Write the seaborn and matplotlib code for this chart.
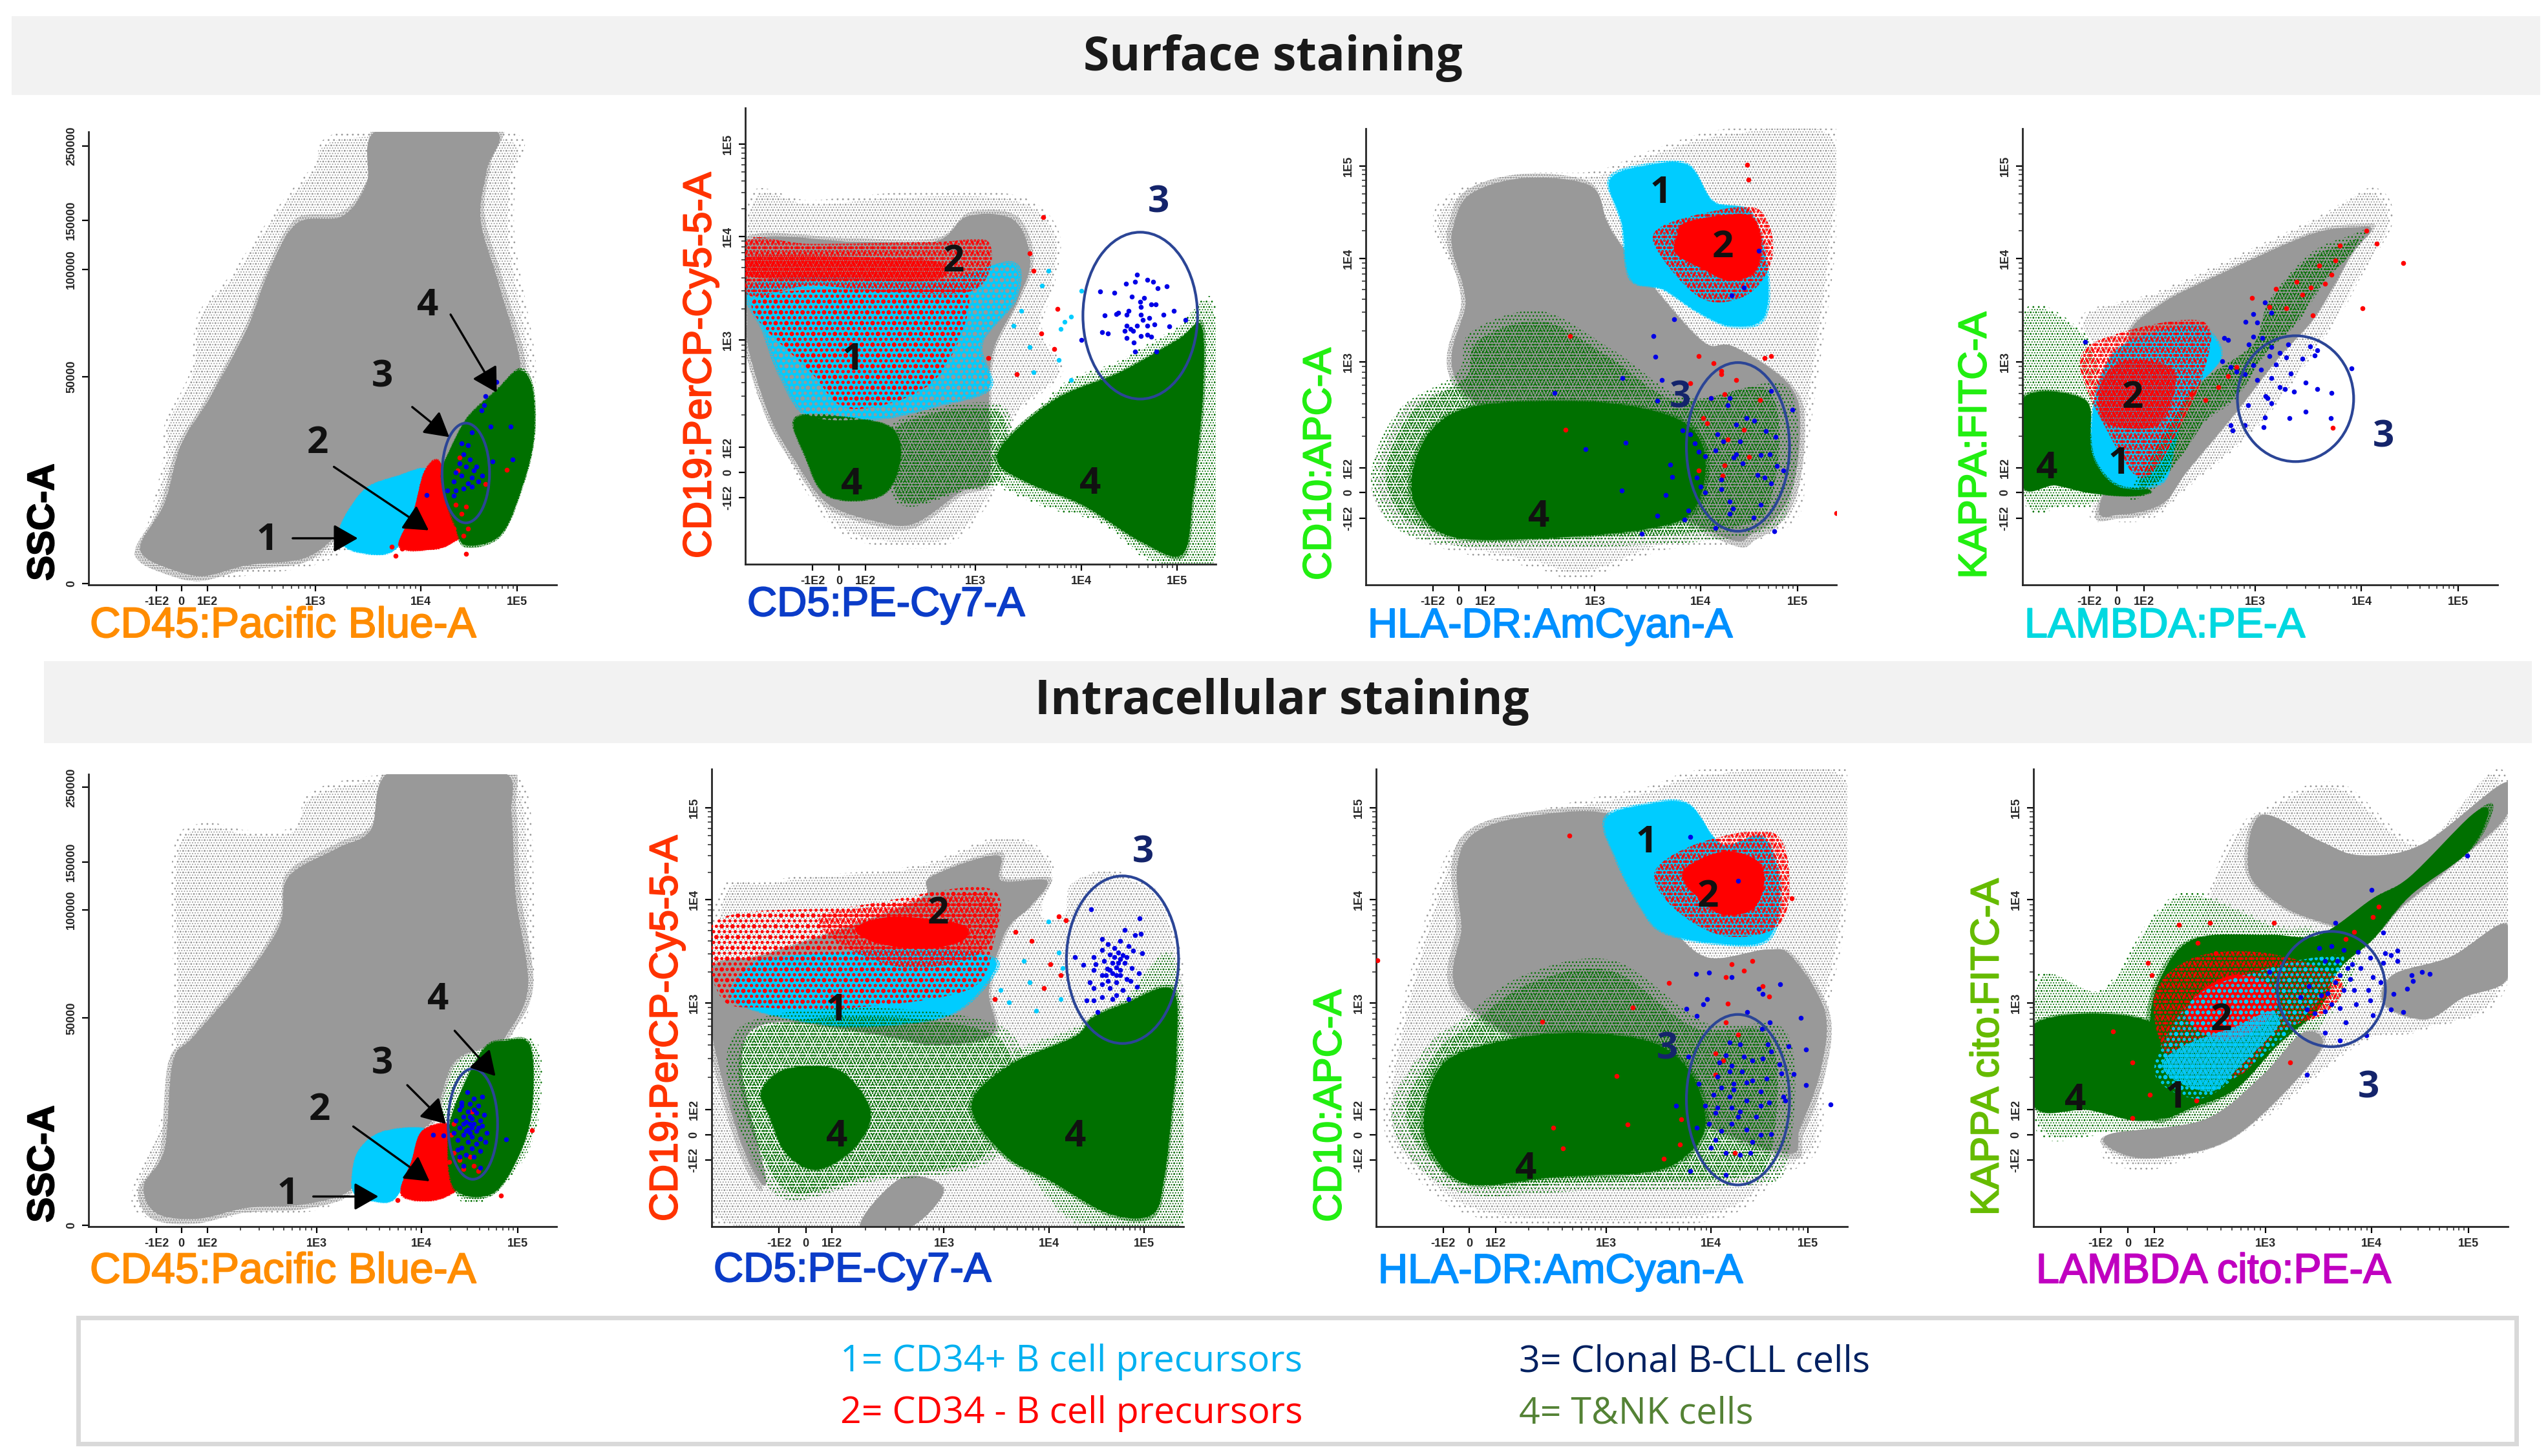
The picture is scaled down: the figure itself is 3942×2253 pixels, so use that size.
import matplotlib
matplotlib.use("Agg")
import matplotlib.patheffects as pe
import matplotlib.pyplot as plt
import numpy as np
import seaborn as sns
from matplotlib.patches import Ellipse, PathPatch, Rectangle
from matplotlib.path import Path
from matplotlib.ticker import FixedLocator

# Everything below is in channel units (the flow software
# gives no linear scale), y channels run downwards like the plots were read.

X_LABELS = ["-1E2", "0", "1E2", "1E3", "1E4", "1E5"]
Y_LABELS = ["1E5", "1E4", "1E3", "1E2", "0", "-1E2"]
SSC_LABELS = ["250000", "150000", "100000", "50000", "0"]

# ---- panel 1, surface CD45 / SSC
P1_HALO = [(335, 1240), (360, 1170), (395, 1000), (400, 900), (460, 760), (480, 600), (560, 490), (620, 390), (690, 280), (760, 190), (830, 97), (1240, 97), (1250, 220), (1250, 400), (1300, 780), (1200, 830), (1100, 1020), (900, 1200), (780, 1285), (600, 1320), (470, 1330), (370, 1300)]
P1_GRAY = [(345, 1225), (400, 1120), (440, 960), (510, 830), (600, 640), (650, 490), (720, 350), (830, 330), (890, 240), (920, 90), (1195, 90), (1180, 200), (1165, 340), (1210, 520), (1262, 750), (1205, 810), (1140, 880), (1080, 1000), (1020, 1040), (920, 1060), (850, 1130), (820, 1200), (740, 1270), (600, 1290), (490, 1320), (400, 1295), (350, 1265)]
P1_CYAN = [(825, 1195), (855, 1125), (895, 1075), (960, 1048), (1035, 1030), (1005, 1140), (975, 1225), (930, 1260), (845, 1245)]
P1_RED = [(1030, 1035), (1065, 1005), (1090, 1100), (1125, 1170), (1145, 1200), (1110, 1220), (1060, 1245), (970, 1240), (1005, 1140)]
P1_GREEN = [(1135, 885), (1205, 810), (1258, 755), (1290, 800), (1295, 930), (1270, 1060), (1215, 1205), (1130, 1235), (1105, 1180), (1085, 1120), (1072, 1040), (1090, 980)]
P1_ELLIPSE = [1130, 1037, 115, 275]
P1_BLUE = [(1205, 785), (1178, 825), (1175, 850), (1168, 865), (1190, 908), (1238, 908), (1243, 1000), (1145, 925), (1120, 955), (1135, 960), (1125, 985), (1140, 1000), (1115, 1010), (1105, 1035), (1130, 1020), (1150, 1030), (1170, 1045), (1145, 1050), (1120, 1045), (1100, 1060), (1135, 1065), (1160, 1060), (1125, 1080), (1105, 1085), (1085, 1085), (1035, 1098), (1100, 1100), (1195, 1005), (1145, 1075), (1155, 1020)]
P1_SPOTS = [(1115, 995), (1110, 1030), (1230, 1028), (1130, 1130), (1105, 1125), (1120, 1150), (1135, 1190), (950, 1240), (960, 1265), (975, 1245), (1130, 1260), (1178, 1068), (1100, 1190), (1125, 1210)]
P1_NUMS = [("1", 648, 1222), ("2", 770, 955), ("3", 928, 772), ("4", 1038, 575)]
P1_ARROWS = [(710, 1217, 868, 1217), (810, 1020, 1040, 1195), (1000, 855, 1090, 938), (1093, 600, 1205, 815)]

# ---- panel 2, surface CD5 / CD19
P2_HALO = [(245, 280), (400, 285), (640, 262), (900, 272), (1000, 370), (990, 520), (960, 640), (1010, 760), (900, 880), (860, 1060), (760, 1215), (650, 1245), (490, 1215), (400, 1110), (300, 900), (245, 700)]
P2_GRAY = [(245, 600), (250, 700), (300, 880), (360, 1000), (440, 1120), (560, 1170), (650, 1175), (760, 1090), (830, 1050), (830, 850), (840, 700), (900, 560), (930, 450), (890, 340), (780, 330), (700, 400), (500, 400), (245, 400)]
P2_CYAN = [(250, 530), (400, 500), (700, 510), (880, 460), (890, 560), (810, 680), (830, 800), (700, 850), (560, 885), (400, 880), (330, 770), (290, 650)]
P2_RED_BAND = [(245, 395), (400, 405), (700, 400), (830, 400), (800, 530), (600, 540), (400, 520), (245, 545)]
P2_RED_CORE = [(250, 440), (600, 445), (720, 460), (700, 505), (500, 505), (250, 495)]
P2_RED_SPARSE = [(260, 560), (600, 530), (780, 540), (700, 780), (500, 860), (400, 760)]
P2_GREEN_A = [(365, 885), (520, 890), (600, 920), (615, 1000), (580, 1090), (500, 1112), (430, 1090), (390, 1000)]
P2_GREEN_B = [(855, 1010), (880, 940), (1000, 830), (1150, 760), (1290, 670), (1345, 630), (1350, 800), (1335, 1000), (1325, 1100), (1300, 1260), (1200, 1225), (1060, 1125), (930, 1065)]
P2_GREEN_HALO = [(840, 1030), (1000, 800), (1140, 730), (1280, 640), (1385, 590), (1385, 1285), (1230, 1285), (1100, 1175), (950, 1125)]
P2_MOTTLE = [(600, 900), (860, 850), (870, 1050), (760, 1090), (640, 1130), (590, 1080)]
P2_ELLIPSE = [1198, 603, 278, 460]
P2_BLUE = [(1190, 490), (1163, 515), (1185, 510), (1215, 505), (1230, 510), (1240, 528), (1263, 522), (1100, 537), (1135, 540), (1178, 550), (1207, 555), (1198, 565), (1225, 572), (1235, 572), (1200, 580), (1170, 590), (1140, 598), (1112, 603), (1165, 600), (1200, 600), (1220, 610), (1280, 590), (1255, 600), (1308, 615), (1165, 630), (1190, 630), (1215, 630), (1232, 628), (1268, 633), (1160, 645), (1180, 645), (1215, 655), (1120, 652), (1105, 648), (1165, 665), (1200, 660), (1225, 662), (1183, 678), (1185, 702), (1237, 702), (1055, 670), (1145, 595), (1205, 615), (1175, 640)]
P2_SPOTS = [(963, 332), (997, 585), (958, 652), (990, 695), (930, 432), (940, 480), (830, 720), (898, 765)]
P2_CYAN_SPOTS = [(960, 520), (975, 480), (1005, 640), (1030, 605), (1015, 620), (930, 690), (890, 630), (910, 590), (1000, 725), (1030, 780), (940, 760), (1055, 535)]
P2_NUMS = [("1", 500, 725), ("2", 745, 455), ("4", 498, 1070), ("4", 1077, 1068)]
P2_NAVY = [("3", 1243, 292)]

# ---- panel 3, surface HLA-DR / CD10
P3_HALO = [(340, 350), (400, 255), (560, 212), (730, 205), (860, 150), (1050, 88), (1318, 88), (1318, 400), (1270, 800), (1245, 1000), (1225, 1160), (1100, 1230), (900, 1250), (700, 1330), (590, 1300), (300, 1220), (190, 1080), (260, 860), (400, 780), (420, 560)]
P3_GRAY = [(390, 360), (430, 270), (560, 225), (720, 245), (760, 340), (790, 400), (900, 560), (1000, 680), (1070, 690), (1200, 790), (1230, 900), (1205, 1100), (1120, 1200), (1000, 1190), (430, 830), (420, 560), (390, 430)]
P3_GREEN = [(290, 1050), (330, 930), (420, 860), (600, 840), (800, 850), (950, 900), (1000, 1000), (970, 1140), (860, 1190), (620, 1215), (400, 1215), (310, 1150)]
P3_GREEN_HALO = [(190, 1040), (260, 860), (400, 760), (430, 650), (600, 590), (780, 700), (960, 830), (1200, 800), (1210, 1100), (1100, 1210), (620, 1245), (380, 1235), (240, 1180)]
P3_CYAN = [(770, 230), (860, 190), (960, 190), (1020, 290), (1110, 320), (1150, 480), (1140, 610), (1060, 630), (980, 590), (900, 530), (820, 500), (800, 350)]
P3_RED = [(950, 350), (1030, 330), (1110, 330), (1135, 400), (1120, 480), (1060, 505), (990, 470), (930, 430), (935, 380)]
P3_RED_HALO = [(880, 370), (1000, 320), (1130, 310), (1165, 430), (1110, 540), (1000, 560), (900, 450)]
P3_ELLIPSE = [1080, 965, 250, 465]
P3_BLUE = [(875, 660), (880, 716), (800, 775), (895, 780), (885, 838), (635, 817), (710, 972), (807, 953), (798, 1085), (905, 1097), (915, 1014), (920, 1048), (885, 1155), (847, 1205), (925, 613), (945, 920), (965, 930), (975, 955), (1030, 930), (1060, 830), (1015, 830), (1055, 850), (1100, 885), (1120, 892), (1075, 903), (1147, 922), (1172, 938), (1085, 950), (1045, 950), (1025, 975), (985, 978), (1000, 990), (1075, 985), (1070, 995), (1135, 988), (1157, 985), (1092, 1010), (1175, 1018), (1190, 1030), (1127, 1043), (1145, 1050), (1160, 1065), (980, 1050), (1040, 1055), (1040, 1082), (990, 1075), (1000, 1090), (1060, 1115), (1135, 1125), (1068, 1135), (960, 1140), (1060, 1150), (1118, 1160), (950, 1165), (1025, 1188), (1168, 1197), (1212, 863), (1160, 810), (1095, 525), (1065, 547), (1130, 425)]
P3_SPOTS = [(662, 917), (672, 660), (1318, 1147), (1103, 187), (1105, 228), (965, 790), (1015, 830), (1048, 820), (1133, 835), (995, 885), (1005, 900), (1095, 917), (985, 1030), (1042, 1045), (1048, 1015), (1107, 993), (1055, 945), (1040, 765), (1075, 780), (1040, 755), (1020, 735), (985, 715), (1145, 720), (1160, 715)]
P3_NUMS = [("1", 893, 265), ("2", 1043, 415), ("4", 597, 1158)]
P3_NAVY = [("3", 940, 830)]

# ---- panel 4, surface LAMBDA / KAPPA
P4_HALO = [(420, 610), (620, 530), (980, 340), (1130, 250), (1180, 340), (1100, 500), (1040, 620), (860, 900), (680, 1080), (600, 1160), (500, 1170), (440, 1130), (500, 800)]
P4_GRAY = [(540, 660), (620, 570), (760, 490), (980, 380), (1100, 360), (1125, 370), (1080, 430), (1030, 530), (980, 620), (900, 720), (790, 880), (680, 1030), (620, 1120), (520, 1150), (470, 1120), (600, 800)]
P4_GREEN_A = [(280, 835), (430, 835), (450, 950), (500, 1060), (590, 1085), (540, 1100), (440, 1090), (360, 1070), (280, 1070)]
P4_GREEN_B = [(1120, 365), (1090, 420), (1020, 500), (950, 620), (870, 710), (800, 830), (720, 900), (660, 1000), (590, 1090), (540, 1090), (660, 850), (730, 770), (840, 680), (880, 560), (980, 430), (1080, 380)]
P4_GREEN_HALO = [(280, 600), (430, 650), (470, 790), (480, 1090), (380, 1130), (280, 1100)]
P4_CYAN = [(470, 780), (520, 690), (640, 640), (720, 640), (760, 720), (680, 830), (650, 960), (620, 1060), (520, 1070), (460, 1000), (450, 900)]
P4_RED = [(470, 790), (520, 730), (600, 730), (650, 760), (640, 850), (600, 910), (510, 910), (470, 880)]
P4_RED_HALO = [(420, 730), (520, 650), (720, 620), (720, 760), (640, 960), (570, 1050), (500, 950)]
P4_ELLIPSE = [943, 832, 282, 347]
P4_BLUE = [(432, 675), (868, 567), (885, 595), (840, 598), (822, 620), (850, 622), (770, 665), (780, 670), (840, 662), (862, 665), (830, 682), (885, 690), (925, 683), (978, 688), (995, 698), (990, 712), (905, 705), (880, 715), (920, 718), (960, 722), (765, 728), (785, 745), (840, 740), (860, 752), (895, 738), (1078, 748), (800, 758), (820, 765), (850, 780), (885, 775), (932, 762), (968, 788), (905, 800), (918, 805), (940, 812), (995, 805), (1030, 817), (870, 825), (875, 830), (828, 850), (885, 845), (968, 868), (1028, 885), (868, 883), (928, 885), (785, 905), (820, 905), (865, 910), (790, 920)]
P4_SPOTS = [(1140, 405), (1205, 458), (1105, 583), (1033, 913), (1115, 368), (1050, 410), (1040, 450), (1000, 465), (1030, 490), (1015, 515), (980, 525), (945, 510), (960, 545), (895, 530), (920, 582), (880, 580), (838, 555), (985, 603), (800, 745), (780, 770), (755, 800), (690, 820), (725, 835)]
P4_NUMS = [("2", 548, 830), ("1", 515, 1012), ("4", 340, 1025)]
P4_NAVY = [("3", 1157, 938)]

# ---- panel 5, intracellular CD45 / SSC
P5_HALO = [(320, 1240), (400, 1000), (420, 700), (420, 300), (490, 220), (600, 240), (710, 230), (760, 130), (945, 85), (1215, 85), (1280, 140), (1295, 400), (1290, 700), (1230, 830), (1100, 1000), (900, 1200), (780, 1285), (600, 1300), (470, 1320), (360, 1310)]
P5_GRAY = [(350, 1220), (400, 1120), (420, 880), (470, 810), (600, 640), (680, 500), (700, 370), (820, 290), (900, 240), (950, 78), (1215, 78), (1240, 200), (1250, 420), (1280, 670), (1230, 800), (1200, 830), (1100, 880), (1040, 1050), (920, 1080), (870, 1130), (850, 1230), (740, 1270), (600, 1280), (480, 1310), (380, 1295)]
P5_CYAN = [(855, 1195), (872, 1122), (930, 1072), (1035, 1068), (1000, 1150), (975, 1225), (940, 1265), (865, 1245)]
P5_RED = [(1025, 1070), (1092, 1055), (1100, 1150), (1125, 1210), (1060, 1258), (975, 1245), (1000, 1150)]
P5_GREEN = [(1105, 1000), (1170, 850), (1225, 822), (1285, 835), (1290, 1000), (1260, 1130), (1195, 1240), (1105, 1230), (1088, 1100)]
P5_GREEN_HALO = [(960, 1030), (1090, 870), (1225, 825), (1305, 830), (1310, 1010), (1270, 1150), (1180, 1260), (1110, 1250), (1090, 1050)]
P5_ELLIPSE = [1147, 1050, 120, 305]
P5_BLUE = [(1133, 962), (1150, 980), (1170, 975), (1120, 990), (1140, 995), (1160, 1000), (1115, 1010), (1135, 1015), (1155, 1020), (1175, 1025), (1125, 1030), (1145, 1035), (1165, 1040), (1105, 1040), (1130, 1045), (1150, 1050), (1170, 1055), (1115, 1060), (1135, 1065), (1155, 1070), (1180, 1075), (1100, 1075), (1125, 1080), (1145, 1085), (1165, 1090), (1110, 1095), (1135, 1100), (1155, 1105), (1178, 1100), (1228, 1092), (1120, 1115), (1145, 1118), (1165, 1125), (1130, 1135), (1150, 1140), (1115, 1140), (1050, 1080), (1075, 1082), (1140, 1050), (1125, 1050), (1145, 1060), (1130, 1070), (1160, 1060), (1140, 1075), (1120, 1000), (1150, 1010), (1140, 1030), (1110, 1120), (1165, 1170), (1125, 1165)]
P5_SPOTS = [(1290, 1068), (1100, 1050), (1085, 1065), (1095, 1080), (1145, 1015), (1140, 1140), (1150, 1165), (1125, 1175), (1115, 1150), (1160, 1180), (1215, 1247), (965, 1260), (1100, 1130), (1090, 1155)]
P5_NUMS = [("1", 698, 1243), ("2", 775, 1013), ("3", 928, 885), ("4", 1062, 708)]
P5_ARROWS = [(760, 1250, 918, 1250), (857, 1057, 1042, 1208), (988, 943, 1082, 1050), (1103, 793, 1202, 918)]

# ---- panel 6, intracellular CD5 / CD19
P6_HALO = [(158, 480), (300, 380), (640, 340), (870, 255), (985, 330), (960, 470), (1020, 470), (1040, 380), (1160, 360), (1290, 540), (1300, 1333), (158, 1333)]
P6_GRAY = [(160, 620), (300, 580), (650, 440), (690, 370), (850, 310), (860, 380), (970, 380), (930, 450), (870, 520), (830, 680), (840, 800), (700, 830), (550, 800), (300, 770), (230, 880), (290, 1210), (230, 1100), (160, 800)]
P6_GRAY_LOW = [(520, 1330), (620, 1200), (720, 1230), (640, 1333)]
P6_CYAN = [(210, 690), (250, 620), (330, 590), (650, 570), (830, 590), (830, 650), (730, 750), (540, 780), (400, 770), (250, 730)]
P6_RED_CORE = [(510, 510), (600, 480), (760, 500), (770, 540), (680, 565), (560, 550)]
P6_RED_MID = [(420, 480), (560, 450), (830, 420), (820, 570), (640, 620), (480, 560)]
P6_RED_BAND = [(170, 490), (500, 450), (830, 400), (840, 560), (780, 680), (500, 730), (300, 730), (180, 700)]
P6_GREEN_A = [(280, 960), (340, 900), (460, 900), (530, 980), (540, 1050), (490, 1130), (410, 1175), (340, 1130), (300, 1030)]
P6_GREEN_B = [(790, 1000), (880, 890), (1040, 810), (1080, 760), (1160, 720), (1275, 680), (1285, 850), (1275, 1000), (1255, 1200), (1225, 1300), (1120, 1295), (980, 1205), (870, 1135)]
P6_GREEN_HALO = [(780, 990), (870, 860), (1040, 780), (1160, 700), (1290, 600), (1305, 1333), (1060, 1333), (950, 1230)]
P6_MOTTLE = [(230, 780), (860, 780), (860, 1130), (540, 1210), (300, 1230)]
P6_ELLIPSE = [1155, 597, 272, 462]
P6_BLUE = [(1078, 458), (1197, 483), (1160, 515), (1200, 525), (1185, 530), (1150, 545), (1105, 540), (1120, 555), (1170, 560), (1135, 565), (1105, 570), (1180, 572), (1203, 580), (1145, 578), (1125, 582), (1165, 590), (1085, 590), (1040, 590), (1150, 595), (1110, 600), (1130, 605), (1160, 605), (1090, 610), (1060, 612), (1140, 618), (1118, 622), (1178, 620), (1085, 625), (1195, 635), (1130, 635), (1105, 640), (1150, 640), (1165, 650), (1120, 655), (1075, 660), (1140, 660), (1105, 665), (1175, 655), (1125, 675), (1155, 680), (1085, 675), (1190, 672), (1140, 695), (1105, 700), (1170, 705), (1130, 705), (1085, 710), (1095, 742), (1068, 710), (1150, 625), (1135, 590), (1155, 585), (1145, 605), (1125, 625), (1140, 640), (1115, 640)]
P6_SPOTS = [(1000, 478), (1018, 488), (980, 610), (1005, 640), (845, 705), (895, 520), (935, 545), (965, 675)]
P6_CYAN_SPOTS = [(975, 492), (1000, 578), (1010, 620), (945, 738), (880, 715), (915, 600), (930, 660), (1005, 705), (860, 680)]
P6_NUMS = [("1", 462, 738), ("2", 708, 470), ("4", 462, 1085), ("4", 1040, 1085)]
P6_NAVY = [("3", 1205, 302)]

# ---- panel 7, intracellular HLA-DR / CD10
P7_HALO = [(220, 1000), (330, 450), (420, 250), (650, 170), (860, 120), (1000, 72), (1345, 72), (1345, 450), (1290, 800), (1280, 1100), (1180, 1200), (1000, 1320), (500, 1320), (300, 1200)]
P7_GRAY = [(400, 340), (440, 250), (560, 205), (760, 195), (850, 300), (900, 470), (1000, 590), (1150, 570), (1210, 590), (1290, 740), (1280, 900), (1230, 1060), (1190, 1130), (900, 1000), (430, 730), (410, 500)]
P7_GREEN = [(320, 1020), (370, 880), (520, 820), (700, 800), (880, 830), (970, 920), (1000, 1050), (960, 1130), (870, 1180), (640, 1195), (430, 1215), (340, 1130)]
P7_GREEN_HALO = [(240, 1000), (330, 830), (400, 770), (560, 640), (780, 600), (1000, 770), (1200, 800), (1200, 1150), (1100, 1220), (700, 1235), (430, 1245), (290, 1150)]
P7_CYAN = [(760, 210), (860, 170), (960, 170), (1040, 280), (1140, 260), (1180, 400), (1150, 540), (1020, 550), (900, 520), (850, 460), (790, 330)]
P7_RED = [(960, 340), (1050, 300), (1130, 330), (1140, 400), (1110, 460), (1040, 470), (990, 430), (950, 380)]
P7_RED_HALO = [(880, 350), (1000, 270), (1170, 250), (1205, 400), (1170, 510), (1040, 530), (920, 450)]
P7_ELLIPSE = [1080, 983, 250, 470]
P7_BLUE = [(1130, 678), (1183, 665), (1140, 692), (978, 637), (1010, 633), (1065, 645), (1005, 705), (995, 720), (955, 732), (980, 752), (1103, 742), (1157, 770), (1232, 757), (1138, 787), (1152, 830), (1060, 825), (1085, 830), (1203, 835), (1245, 845), (1050, 860), (1095, 865), (1160, 850), (960, 865), (1035, 880), (1065, 890), (1115, 875), (1140, 870), (1180, 885), (1060, 905), (1090, 905), (1215, 912), (1030, 920), (1115, 930), (1150, 925), (1185, 910), (1070, 940), (1100, 935), (1245, 943), (985, 940), (1040, 950), (1070, 955), (1135, 960), (1190, 975), (1020, 970), (1060, 975), (1100, 985), (1155, 990), (1195, 985), (1305, 997), (1000, 1000), (1030, 1005), (1065, 1005), (1085, 1015), (1135, 1000), (930, 1000), (1025, 1020), (1080, 1030), (1125, 1030), (1010, 1050), (1065, 1050), (1100, 1065), (980, 1060), (1040, 1070), (1135, 1080), (1160, 1078), (1025, 1095), (1115, 1100), (1015, 1115), (1050, 1130), (1085, 1135), (1110, 1130), (1050, 1190), (965, 1180), (1080, 380), (965, 258)]
P7_SPOTS = [(785, 918), (632, 1060), (812, 1052), (655, 1118), (900, 1146), (942, 1038), (940, 1107), (605, 768), (825, 728), (912, 662), (671, 255), (205, 598), (1050, 770), (1080, 803), (1025, 855), (1045, 875), (1025, 915), (1072, 1130), (1065, 610), (1115, 600), (1095, 628), (1050, 645), (1140, 670), (1155, 698), (1055, 718), (1210, 428)]
P7_NUMS = [("1", 858, 275), ("2", 1008, 425), ("4", 565, 1175)]
P7_NAVY = [("3", 908, 843)]

# ---- panel 8, intracellular LAMBDA / KAPPA
P8_HALO = [(480, 1100), (600, 900), (760, 320), (880, 170), (1050, 110), (1250, 270), (1450, 80), (1458, 660), (1260, 790), (1100, 830), (850, 1050), (620, 1170), (500, 1160)]
P8_GRAY_A = [(830, 350), (860, 200), (1000, 270), (1100, 310), (1250, 280), (1450, 110), (1453, 200), (1350, 310), (1200, 450), (1130, 520), (1000, 490), (900, 440)]
P8_GRAY_B = [(1160, 720), (1180, 640), (1320, 590), (1453, 500), (1455, 650), (1350, 700), (1260, 760)]
P8_GRAY_C = [(490, 1080), (720, 1040), (860, 920), (960, 800), (1000, 850), (800, 1080), (620, 1140), (520, 1130)]
P8_GREEN_A = [(310, 775), (590, 770), (610, 960), (640, 1020), (560, 1040), (440, 1010), (310, 1000)]
P8_GREEN_B = [(590, 780), (620, 640), (700, 540), (880, 530), (1000, 530), (1130, 430), (1220, 370), (1370, 200), (1410, 190), (1360, 300), (1220, 420), (1130, 540), (1050, 620), (1000, 730), (900, 830), (800, 950), (700, 1000), (600, 1020)]
P8_GREEN_HALO = [(310, 650), (470, 680), (600, 470), (700, 410), (900, 500), (1000, 510), (1100, 600), (1000, 800), (900, 950), (700, 1060), (480, 1080), (310, 1060)]
P8_RED = [(680, 750), (720, 680), (800, 640), (880, 670), (890, 740), (810, 810), (740, 810)]
P8_RED_HALO = [(600, 700), (700, 590), (880, 580), (1050, 650), (1020, 740), (900, 800), (800, 920), (650, 900)]
P8_CYAN = [(620, 880), (680, 830), (800, 780), (880, 740), (900, 780), (800, 900), (740, 960), (650, 930)]
P8_CYAN_HALO = [(600, 900), (700, 700), (880, 620), (1000, 590), (1060, 600), (960, 760), (800, 920), (700, 980)]
P8_ELLIPSE = [1030, 678, 262, 318]
P8_BLUE = [(1128, 405), (1040, 495), (1360, 310), (1155, 522), (1190, 572), (1175, 585), (1160, 580), (1190, 600), (1125, 592), (1155, 605), (1250, 630), (1268, 637), (1225, 640), (1228, 655), (1213, 677), (1180, 692), (1175, 735), (1205, 742), (1000, 565), (1030, 560), (1060, 570), (1095, 575), (1015, 600), (1045, 600), (1080, 610), (1100, 620), (1130, 645), (1075, 650), (1050, 640), (1085, 680), (1120, 680), (1150, 660), (1060, 680), (1020, 690), (975, 670), (955, 700), (1125, 710), (1090, 720), (1050, 730), (1015, 740), (990, 745), (970, 735), (1030, 720), (1130, 750), (1065, 770), (1015, 798), (1115, 805), (1050, 820), (970, 915), (880, 630), (1005, 695), (1070, 620), (1040, 660)]
P8_SPOTS = [(735, 495), (890, 495), (660, 500), (705, 550), (750, 580), (585, 605), (595, 640), (500, 795), (548, 880), (590, 970), (703, 985), (547, 1033), (930, 880), (1145, 450), (1130, 480), (1085, 520), (1065, 540)]
P8_NUMS = [("1", 652, 978), ("2", 763, 765), ("4", 408, 985)]
P8_NAVY = [("3", 1120, 950)]

KEY_LEFT = ["1= CD34+ B cell precursors", "2= CD34 - B cell precursors"]
KEY_RIGHT = ["3= Clonal B-CLL cells", "4= T&NK cells"]

GRAY, GREEN, CYAN, RED, BLUE = "#999999", "#007000", "#00ccff", "#ff0000", "#0000e6"
NAVY = "#14246b"
GATE = "#2b4596"
W, H = 3942, 2253
# channels per output pixel, differs per direction
SCALE_X, SCALE_Y = 1.568, 1.782
# dot screens: hatch patterns and dot weight
SCREENS = {
    "sparse": ((".", ".."), 2.4),
    "mid": (("..", "..."), 2.0),
    "dense": (("...", "....."), 2.2),
}

sns.set_theme(style="ticks")
plt.rcParams["font.family"] = ["Liberation Sans", "DejaVu Sans"]
plt.rcParams["hatch.linewidth"] = 1.1

fig = plt.figure(figsize=(W / 100, H / 100), dpi=100, facecolor="white")


def fx(px):
    return px / W


def fy(px):
    return 1 - px / H


def blob_path(pts):
    # closed smooth outline that runs through the read points
    pts = np.array(pts, dtype=float)
    prev_p, next_p, next2 = np.roll(pts, 1, axis=0), np.roll(pts, -1, axis=0), np.roll(pts, -2, axis=0)
    verts = [pts[0]]
    codes = [Path.MOVETO]
    for a, b, c, d in zip(prev_p, pts, next_p, next2):
        verts += [b + (c - a) / 6, c - (d - b) / 6, c]
        codes += [Path.CURVE4] * 3
    return Path(verts, codes)


def shrink(pts, factor):
    pts = np.array(pts, dtype=float)
    mid = pts.mean(axis=0)
    return mid + (pts - mid) * factor


def speck(ax, pts, color, z=1.5, screens=("...", "....."), dot=1.1):
    # dot screens on top of each other look enough like single events
    path = blob_path(pts)
    for h in screens:
        patch = PathPatch(path, facecolor="none", edgecolor=color, hatch=h, lw=0, zorder=z)
        patch.set_hatch_linewidth(dot)
        ax.add_patch(patch)


def solid(ax, pts, color, z=2):
    # fuzzy rim first so the population edge does not look cut out
    speck(ax, shrink(pts, 1.03), color, z=z, screens=("....", "......"), dot=1.1)
    ax.add_patch(PathPatch(blob_path(pts), facecolor=color, edgecolor=color, lw=1, zorder=z))


def log_minor(pos):
    out = []
    for a, b in zip(pos[:-1], pos[1:]):
        out += [a + (b - a) * np.log10(m) for m in range(2, 10)]
    return out


panels = [
    dict(off=(0, 150), box=(215, 1350, 97, 1345), xt=[380, 440, 503, 765, 1020, 1255], yt=[135, 340, 475, 772, 1342], yl=SSC_LABELS,
         xlabel=("CD45:Pacific Blue-A", "#ff8c00", 47.5, 139, 969), ylabel=("SSC-A", "black", 42, 68, 808),
         speck=[(P1_HALO, GRAY)], solid=[(P1_GRAY, GRAY), (P1_CYAN, CYAN), (P1_RED, RED), (P1_GREEN, GREEN)], over=[],
         ell=P1_ELLIPSE, blue=P1_BLUE, red=P1_SPOTS, cyan=[], nums=P1_NUMS, navy=[], arrows=P1_ARROWS),
    dict(off=(1000, 150), box=(240, 1382, 30, 1288), xt=[403, 467, 532, 798, 1055, 1287], yt=[130, 385, 670, 965, 1035, 1105], yl=Y_LABELS,
         xlabel=("CD5:PE-Cy7-A", "#0b3cc8", 46, 1156, 936), ylabel=("CD19:PerCP-Cy5-5-A", "#ff3300", 44, 1084, 565),
         speck=[(P2_HALO, GRAY), (P2_GREEN_HALO, GREEN)], solid=[(P2_GRAY, GRAY), (P2_CYAN, CYAN), (P2_GREEN_A, GREEN), (P2_GREEN_B, GREEN)],
         over=[(P2_CYAN, GRAY, "sparse"), (P2_RED_BAND, RED, "mid"), (P2_RED_CORE, RED, "dense"), (P2_RED_SPARSE, RED, "sparse"), (P2_MOTTLE, GREEN, "fade")],
         ell=P2_ELLIPSE, blue=P2_BLUE, red=P2_SPOTS, cyan=P2_CYAN_SPOTS, nums=P2_NUMS, navy=P2_NAVY, arrows=[]),
    dict(off=(2000, 150), box=(177, 1318, 87, 1345), xt=[340, 403, 467, 733, 990, 1225], yt=[190, 445, 730, 1023, 1090, 1162], yl=Y_LABELS,
         xlabel=("HLA-DR:AmCyan-A", "#0090ff", 46, 2116, 969), ylabel=("CD10:APC-A", "#22ee11", 44, 2043, 718),
         speck=[(P3_HALO, GRAY)], solid=[(P3_GRAY, GRAY), (P3_CYAN, CYAN), (P3_RED, RED), (P3_GREEN, GREEN)],
         over=[(P3_GREEN_HALO, GREEN, "fade"), (P3_RED_HALO, RED, "mid")],
         ell=P3_ELLIPSE, blue=P3_BLUE, red=P3_SPOTS, cyan=[], nums=P3_NUMS, navy=P3_NAVY, arrows=[]),
    dict(off=(2950, 150), box=(280, 1433, 87, 1345), xt=[443, 510, 575, 845, 1103, 1338], yt=[190, 445, 730, 1023, 1090, 1162], yl=Y_LABELS,
         xlabel=("LAMBDA:PE-A", "#00d8e0", 46.5, 3132, 969), ylabel=("KAPPA:FITC-A", "#22ee11", 44, 3057, 689),
         speck=[(P4_HALO, GRAY), (P4_GREEN_HALO, GREEN)], solid=[(P4_GRAY, GRAY), (P4_GREEN_A, GREEN), (P4_CYAN, CYAN)],
         over=[(P4_GREEN_B, GREEN, "fade"), (P4_RED_HALO, RED, "mid"), (P4_RED, RED, "dense")],
         ell=P4_ELLIPSE, blue=P4_BLUE, red=P4_SPOTS, cyan=[], nums=P4_NUMS, navy=P4_NAVY, arrows=[]),
    dict(off=(0, 1150), box=(215, 1350, 85, 1333), xt=[380, 440, 503, 768, 1022, 1256], yt=[122, 328, 460, 758, 1330], yl=SSC_LABELS,
         xlabel=("CD45:Pacific Blue-A", "#ff8c00", 47.5, 139, 1968), ylabel=("SSC-A", "black", 42, 68, 1801),
         speck=[(P5_HALO, GRAY), (P5_GREEN_HALO, GREEN)], solid=[(P5_GRAY, GRAY), (P5_CYAN, CYAN), (P5_RED, RED), (P5_GREEN, GREEN)], over=[],
         ell=P5_ELLIPSE, blue=P5_BLUE, red=P5_SPOTS, cyan=[], nums=P5_NUMS, navy=[], arrows=P5_ARROWS),
    dict(off=(1000, 1150), box=(158, 1303, 72, 1333), xt=[322, 387, 450, 722, 977, 1208], yt=[178, 432, 716, 1010, 1080, 1150], yl=Y_LABELS,
         xlabel=("CD5:PE-Cy7-A", "#0b3cc8", 46, 1104, 1966), ylabel=("CD19:PerCP-Cy5-5-A", "#ff3300", 44, 1032, 1591),
         speck=[(P6_HALO, GRAY), (P6_GREEN_HALO, GREEN)], solid=[(P6_GRAY, GRAY), (P6_GRAY_LOW, GRAY), (P6_CYAN, CYAN), (P6_RED_CORE, RED), (P6_GREEN_A, GREEN), (P6_GREEN_B, GREEN)],
         over=[(P6_RED_BAND, RED, "sparse"), (P6_RED_MID, RED, "mid"), (P6_MOTTLE, GREEN, "fade")],
         ell=P6_ELLIPSE, blue=P6_BLUE, red=P6_SPOTS, cyan=P6_CYAN_SPOTS, nums=P6_NUMS, navy=P6_NAVY, arrows=[]),
    dict(off=(2000, 1150), box=(202, 1345, 72, 1333), xt=[365, 428, 492, 760, 1015, 1250], yt=[178, 432, 716, 1010, 1080, 1150], yl=Y_LABELS,
         xlabel=("HLA-DR:AmCyan-A", "#0090ff", 46, 2132, 1968), ylabel=("CD10:APC-A", "#22ee11", 44, 2059, 1711),
         speck=[(P7_HALO, GRAY)], solid=[(P7_GRAY, GRAY), (P7_CYAN, CYAN), (P7_RED, RED), (P7_GREEN, GREEN)],
         over=[(P7_GREEN_HALO, GREEN, "fade"), (P7_RED_HALO, RED, "mid")],
         ell=P7_ELLIPSE, blue=P7_BLUE, red=P7_SPOTS, cyan=[], nums=P7_NUMS, navy=P7_NAVY, arrows=[]),
    dict(off=(2950, 1150), box=(307, 1458, 72, 1333), xt=[470, 537, 600, 870, 1128, 1362], yt=[178, 432, 716, 1010, 1080, 1150], yl=Y_LABELS,
         xlabel=("LAMBDA cito:PE-A", "#c000c0", 46.5, 3150, 1968), ylabel=("KAPPA cito:FITC-A", "#66bb00", 44, 3076, 1620),
         speck=[(P8_HALO, GRAY), (P8_GREEN_HALO, GREEN)], solid=[(P8_GRAY_A, GRAY), (P8_GRAY_B, GRAY), (P8_GRAY_C, GRAY), (P8_GREEN_A, GREEN), (P8_GREEN_B, GREEN), (P8_RED, RED)],
         over=[(P8_RED_HALO, RED, "mid"), (P8_CYAN_HALO, CYAN, "sparse"), (P8_CYAN, CYAN, "dense")],
         ell=P8_ELLIPSE, blue=P8_BLUE, red=P8_SPOTS, cyan=[], nums=P8_NUMS, navy=P8_NAVY, arrows=[]),
]

# banners and key frame sit behind the plots
for x0, y0, x1, y1 in [(18, 25, 3930, 147), (68, 1023, 3917, 1150)]:
    fig.add_artist(Rectangle((fx(x0), fy(y1)), (x1 - x0) / W, (y1 - y0) / H, transform=fig.transFigure, facecolor="#f2f2f2", edgecolor="none", zorder=-5))
fig.add_artist(Rectangle((fx(121), fy(2234)), 3772 / W, 195 / H, transform=fig.transFigure, facecolor="white", edgecolor="#d9d9d9", lw=5, zorder=-5))

for text, x, y in [("Surface staining", 1969, 90), ("Intracellular staining", 1983, 1086)]:
    fig.text(fx(x), fy(y), text, family="Open Sans", weight="bold", fontsize=52.5, ha="center", va="center", color="#1a1a1a")

for text, y, color in [(KEY_LEFT[0], 2108, "#00b0f0"), (KEY_LEFT[1], 2188, "#ff0000")]:
    fig.text(fx(1300), fy(y), text, family="Open Sans", fontsize=41.2, ha="left", va="center", color=color)
for text, y, color in [(KEY_RIGHT[0], 2108, "#002060"), (KEY_RIGHT[1], 2188, "#548235")]:
    fig.text(fx(2350), fy(y), text, family="Open Sans", fontsize=41.2, ha="left", va="center", color=color)

for p in panels:
    left, right, top, bottom = p["box"]
    ox, oy = p["off"]
    x0, x1 = ox + left / SCALE_X, ox + right / SCALE_X
    y0, y1 = oy + top / SCALE_Y, oy + bottom / SCALE_Y
    ax = fig.add_axes([fx(x0), fy(y1), (x1 - x0) / W, (y1 - y0) / H])
    ax.patch.set_alpha(0)

    for pts, color in p["speck"]:
        speck(ax, pts, color, z=1.1, screens=("..",), dot=0.8)
        speck(ax, shrink(pts, 0.97), color, z=1.2, screens=("....",), dot=0.8)
    for pts, color in p["solid"]:
        solid(ax, pts, color, z=2)
    for pts, color, level in p["over"]:
        if level == "fade":
            speck(ax, pts, color, z=2.5, screens=("...",), dot=1.0)
            speck(ax, shrink(pts, 0.92), color, z=2.5, screens=("...", "...."), dot=1.2)
        else:
            screens, dot = SCREENS[level]
            speck(ax, pts, color, z=2.6, screens=screens, dot=dot)

    for pts, color, size in [(p["cyan"], CYAN, 28), (p["red"], RED, 30), (p["blue"], BLUE, 30)]:
        if pts:
            xs, ys = zip(*pts)
            sns.scatterplot(x=list(xs), y=list(ys), color=color, s=size, linewidth=0, legend=False, ax=ax, zorder=3)

    cx, cy, ew, eh = p["ell"]
    ax.add_patch(Ellipse((cx, cy), ew, eh, facecolor="none", edgecolor=GATE, lw=3, zorder=4))

    for x_a, y_a, x_b, y_b in p["arrows"]:
        ax.annotate("", xy=(x_b, y_b), xytext=(x_a, y_a), zorder=5,
                    arrowprops=dict(arrowstyle="-|>,head_length=1.05,head_width=0.6", color="black", lw=2.4, mutation_scale=22, shrinkA=0, shrinkB=0))
    for label, x, y in p["nums"]:
        ax.text(x, y, label, family="Open Sans", weight="bold", fontsize=42, ha="center", va="center", color="#111111", zorder=6)
    for label, x, y in p["navy"]:
        ax.text(x, y, label, family="Open Sans", weight="bold", fontsize=42, ha="center", va="center", color=NAVY, zorder=6)

    ax.set_xlim(left, right)
    ax.set_ylim(bottom, top)
    ax.set_xticks(p["xt"], X_LABELS)
    ax.set_yticks(p["yt"], p["yl"])
    ax.xaxis.set_minor_locator(FixedLocator([m for m in log_minor(p["xt"][2:]) if left < m < right]))
    if len(p["yl"]) == 6:
        ax.yaxis.set_minor_locator(FixedLocator([m for m in log_minor(p["yt"][3::-1]) if top < m < bottom]))
    ax.tick_params(axis="both", which="major", length=7, width=1.6, labelsize=13, pad=6, color="black")
    ax.tick_params(axis="both", which="minor", length=4, width=1.1)
    for lab in ax.get_xticklabels():
        lab.set_fontweight("bold")
    for lab in ax.get_yticklabels():
        lab.set_fontweight("bold")
        lab.set_rotation(90)
        lab.set_va("center")
    sns.despine(ax=ax)
    ax.spines["left"].set_linewidth(2)
    ax.spines["bottom"].set_linewidth(2)

    text, color, size, lx, ly = p["xlabel"]
    ax.set_xlabel(text, color=color, fontsize=size, ha="left", va="center",
                  path_effects=[pe.withStroke(linewidth=1.4, foreground=color)])
    ax.xaxis.set_label_coords(fx(lx), fy(ly), transform=fig.transFigure)
    text, color, size, lx, ly = p["ylabel"]
    ax.set_ylabel(text, color=color, fontsize=size, ha="center", va="center", weight="bold" if text == "SSC-A" else "normal",
                  path_effects=[pe.withStroke(linewidth=1.4, foreground=color)])
    ax.yaxis.set_label_coords(fx(lx), fy(ly), transform=fig.transFigure)

fig.savefig("out.png", dpi=100)
